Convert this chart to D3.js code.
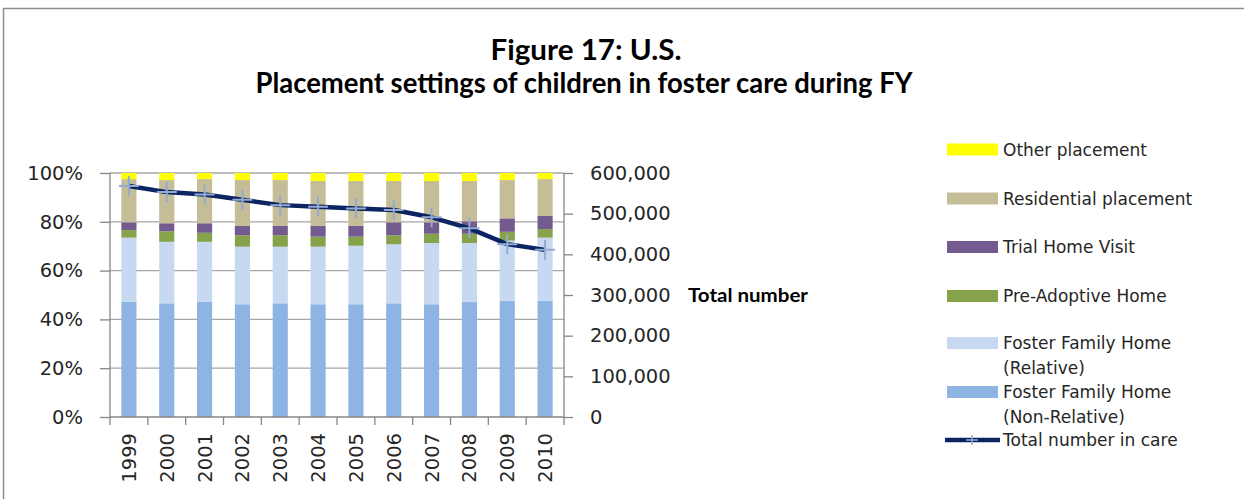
<!DOCTYPE html>
<html>
<head>
<meta charset="utf-8">
<script src="https://cdn.jsdelivr.net/npm/d3@7"></script>
<style>
  body { margin: 0; background: #fff; }
  svg text { font-family: "DejaVu Sans", sans-serif; }
</style>
</head>
<body>
<svg id="chart"></svg>
<script>
    // data (percent of children in care, and totals)
    const years = ["1999","2000","2001","2002","2003","2004","2005","2006","2007","2008","2009","2010"];
    const nonRelative = [47.3, 46.6, 47.3, 46.2, 46.6, 46.2, 46.2, 46.6, 46.2, 47.1, 47.7, 47.7];
    const relative    = [26.2, 25.2, 24.5, 23.6, 23.2, 23.6, 24.0, 24.2, 25.1, 24.2, 24.6, 25.8];
    const preAdoptive = [3.1, 4.3, 3.7, 4.7, 4.7, 4.1, 3.7, 3.7, 3.8, 3.8, 3.6, 3.5];
    const trialHome   = [3.2, 3.3, 3.9, 3.8, 3.8, 4.4, 4.4, 5.3, 4.7, 5.1, 5.5, 5.4];
    const residential = [17.7, 17.7, 18.1, 18.8, 18.8, 18.4, 18.4, 16.9, 16.9, 16.5, 15.7, 15.1];
    const other       = [2.5, 2.9, 2.5, 2.9, 2.9, 3.3, 3.3, 3.3, 3.3, 3.3, 2.9, 2.5];
    const totalInCare = [568000, 553000, 547000, 534000, 521000, 517000, 513000, 509000, 491000, 464000, 425000, 411000];

    const seriesNames = ["Foster Family Home (Non-Relative)", "Foster Family Home (Relative)",
      "Pre-Adoptive Home", "Trial Home Visit", "Residential placement", "Other placement"];
    const seriesValues = [nonRelative, relative, preAdoptive, trialHome, residential, other];
    const colors = ["#8eb4e3", "#c6d9f1", "#86a34b", "#735a8f", "#c4bd97", "#ffff00"];

    const pctTicks = [0, 20, 40, 60, 80, 100];
    const countTicks = [0, 100000, 200000, 300000, 400000, 500000, 600000];

    const W = 1244, H = 499;
    const margin = {top: 173, left: 110},
      width = 454,
      height = 244;

    const root = d3.select("#chart").attr("width", W).attr("height", H);

    // outer frame
    root.append("rect")
      .attr("x", 3.5).attr("y", 8.5)
      .attr("width", W + 10).attr("height", H + 10)
      .attr("fill", "#fff").attr("stroke", "#8c8c8c").attr("stroke-width", 1.5);

    const titleFont = "Lato, 'Open Sans', sans-serif";
    root.append("text")
      .attr("x", 586).attr("y", 60)
      .attr("text-anchor", "middle").attr("font-size", 28).attr("font-weight", "bold")
      .attr("fill", "#000").style("font-family", titleFont)
      .attr("textLength", 191).attr("lengthAdjust", "spacingAndGlyphs")
      .text("Figure 17: U.S.");
    root.append("text")
      .attr("x", 584).attr("y", 93)
      .attr("text-anchor", "middle").attr("font-size", 28).attr("font-weight", "bold")
      .attr("fill", "#000").style("font-family", titleFont)
      .attr("textLength", 657).attr("lengthAdjust", "spacingAndGlyphs")
      .text("Placement settings of children in foster care during FY");

    const svg = root.append("g")
      .attr("transform", "translate(" + margin.left + "," + margin.top + ")");

    const rows = years.map((yr, i) => {
      const r = {year: yr};
      seriesNames.forEach((s, k) => r[s] = seriesValues[k][i]);
      return r;
    });

    const x = d3.scaleBand().domain(years).range([0, width]).paddingInner(0.6).paddingOuter(0.3);
    const y = d3.scaleLinear().domain([0, 100]).range([height, 0]);
    const y2 = d3.scaleLinear().domain([0, 600000]).range([height, 0]);

    // gridlines
    svg.selectAll(".grid")
      .data(pctTicks.slice(1))
      .enter().append("line")
        .attr("x1", 0).attr("x2", width)
        .attr("y1", d => y(d)).attr("y2", d => y(d))
        .attr("stroke", "#a6a6a6").attr("stroke-width", 1.3);

    const stacked = d3.stack().keys(seriesNames)(rows);

    svg.selectAll(".layer")
      .data(stacked)
      .enter().append("g")
        .attr("fill", (d, i) => colors[i])
        .selectAll("rect")
        .data(d => d)
        .enter().append("rect")
          .attr("x", d => x(d.data.year))
          .attr("width", x.bandwidth())
          .attr("y", d => y(d[1]))
          .attr("height", d => y(d[0]) - y(d[1]));

    // axes
    const axisColor = "#868686";
    const leftAxis = svg.append("g")
      .call(d3.axisLeft(y).tickValues(pctTicks).tickFormat(d => d + "%").tickSize(10).tickPadding(17));
    const rightAxis = svg.append("g")
      .attr("transform", "translate(" + width + ",0)")
      .call(d3.axisRight(y2).tickValues(countTicks).tickFormat(d3.format(",")).tickSize(9).tickPadding(17));

    const xAxis = svg.append("g")
      .attr("transform", "translate(0," + height + ")")
      .call(d3.axisBottom(x).tickSize(0).tickPadding(0));
    xAxis.selectAll("text")
      .attr("transform", "rotate(-90)")
      .attr("text-anchor", "end")
      .attr("x", -16).attr("y", 0).attr("dy", "0.36em");
    // category boundary ticks
    xAxis.selectAll(".bound")
      .data(d3.range(years.length + 1))
      .enter().append("line")
        .attr("x1", i => i * width / years.length).attr("x2", i => i * width / years.length)
        .attr("y1", 0).attr("y2", 8)
        .attr("stroke", axisColor).attr("stroke-width", 1.3);

    [leftAxis, rightAxis, xAxis].forEach(a => {
      a.selectAll(".domain").attr("stroke", axisColor).attr("stroke-width", 1.3);
      a.selectAll(".tick line").attr("stroke", axisColor).attr("stroke-width", 1.3);
      a.selectAll("text").attr("font-size", 19.5).attr("fill", "#262626")
        .style("font-family", "'DejaVu Sans', sans-serif");
    });
    leftAxis.select(".domain").attr("d", "M0," + height + "V0");
    rightAxis.select(".domain").attr("d", "M0," + height + "V0");
    xAxis.select(".domain").attr("d", "M0,0H" + width);

    root.append("text")
      .attr("x", 688).attr("y", 302)
      .attr("font-size", 18).attr("font-weight", "bold").attr("fill", "#000")
      .style("font-family", titleFont)
      .attr("textLength", 120).attr("lengthAdjust", "spacingAndGlyphs")
      .text("Total number");

    // total line
    const line = d3.line()
      .x((d, i) => x(years[i]) + x.bandwidth() / 2)
      .y(d => y2(d));
    svg.append("path")
      .datum(totalInCare)
      .attr("fill", "none").attr("stroke", "#0b2462").attr("stroke-width", 4.5)
      .attr("stroke-linejoin", "round")
      .attr("d", line);
    svg.selectAll(".mark")
      .data(totalInCare)
      .enter().append("path")
        .attr("transform", (d, i) => "translate(" + (x(years[i]) + x.bandwidth() / 2) + "," + y2(d) + ")")
        .attr("d", "M-10,0H10M0,-10V10")
        .attr("stroke", "#93abd0").attr("stroke-width", 2).attr("fill", "none");

    // legend
    const legendItems = [
      {label: ["Other placement"], color: colors[5], y: 149.5},
      {label: ["Residential placement"], color: colors[4], y: 198.5},
      {label: ["Trial Home Visit"], color: colors[3], y: 247},
      {label: ["Pre-Adoptive Home"], color: colors[2], y: 296},
      {label: ["Foster Family Home", "(Relative)"], color: colors[1], y: 343},
      {label: ["Foster Family Home", "(Non-Relative)"], color: colors[0], y: 392}
    ];
    const legend = root.append("g");
    legendItems.forEach(it => {
      legend.append("rect")
        .attr("x", 947).attr("y", it.y - 6).attr("width", 51).attr("height", 12)
        .attr("fill", it.color);
      it.label.forEach((t, j) => {
        legend.append("text")
          .attr("x", 1003).attr("y", it.y + j * 25).attr("dy", "0.36em")
          .attr("font-size", 17).attr("fill", "#262626").text(t);
      });
    });
    legend.append("line")
      .attr("x1", 945).attr("x2", 1000).attr("y1", 440).attr("y2", 440)
      .attr("stroke", "#0b2462").attr("stroke-width", 4.5);
    legend.append("path")
      .attr("d", "M966,440H978M972,435V445")
      .attr("stroke", "#93abd0").attr("stroke-width", 1.5);
    legend.append("text")
      .attr("x", 1003).attr("y", 440).attr("dy", "0.36em")
      .attr("font-size", 17).attr("fill", "#262626").text("Total number in care");
</script>
</body>
</html>
